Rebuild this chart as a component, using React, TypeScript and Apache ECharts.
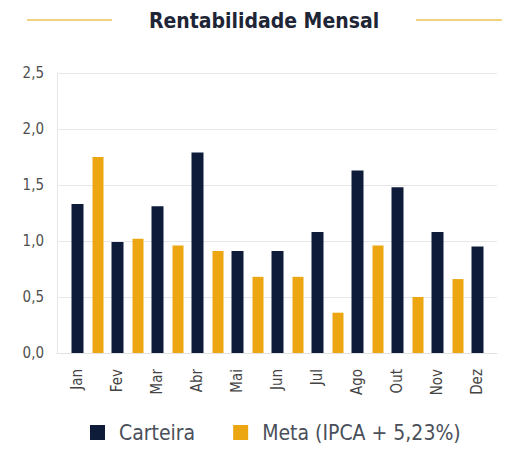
import React, { useEffect, useRef } from "react";
import * as echarts from "echarts";

const months = ["Jan", "Fev", "Mar", "Abr", "Mai", "Jun", "Jul", "Ago", "Out", "Nov", "Dez"];
const carteira = [1.33, 0.99, 1.31, 1.79, 0.91, 0.91, 1.08, 1.63, 1.48, 1.08, 0.95];
const meta: (number | null)[] = [1.75, 1.02, 0.96, 0.91, 0.68, 0.68, 0.36, 0.96, 0.5, 0.66, null];
const placeholder: (number | null)[] = months.map(() => null);

const FONT = "'DejaVu Sans Condensed', 'Roboto', sans-serif";
const NAVY = "#0e1c3a";
const GOLD = "#eba612";

export default function App() {
  const ref = useRef<HTMLDivElement>(null);
  useEffect(() => {
    if (!ref.current) return;
    const chart = echarts.init(ref.current, undefined, { renderer: "svg" });
    chart.setOption({
      animation: false,
      backgroundColor: "#ffffff",
      textStyle: { fontFamily: FONT },
      graphic: [
        { type: "line", shape: { x1: 27, y1: 20, x2: 112, y2: 20 }, style: { stroke: "#f2d27c", lineWidth: 2 } },
        { type: "line", shape: { x1: 416, y1: 20, x2: 502, y2: 20 }, style: { stroke: "#f2d27c", lineWidth: 2 } },
        {
          type: "text",
          x: 264,
          y: 21,
          style: {
            text: "Rentabilidade Mensal",
            fontFamily: FONT,
            fontSize: 21,
            fontWeight: "bold",
            fill: "#1e2536",
            align: "center",
            verticalAlign: "middle",
          },
        },
      ],
      legend: {
        data: ["Carteira", "Meta (IPCA + 5,23%)"],
        left: 85,
        bottom: 3,
        itemWidth: 15,
        itemHeight: 15,
        itemGap: 38,
        icon: "rect",
        textStyle: { fontFamily: FONT, fontSize: 21, color: "#4a4f5a", padding: [0, 0, 0, 9] },
      },
      grid: { left: 57, right: 9, top: 73, bottom: 98 },
      xAxis: {
        type: "category",
        data: months,
        axisLine: { lineStyle: { color: "#e3e3e3" } },
        axisTick: { show: false },
        axisLabel: { rotate: 90, fontSize: 15, color: "#444", margin: 16, fontFamily: FONT },
      },
      yAxis: {
        type: "value",
        min: 0,
        max: 2.5,
        interval: 0.5,
        axisLine: { show: true, lineStyle: { color: "#e6e6e6" } },
        splitLine: { lineStyle: { color: "#e8e8e8" } },
        axisLabel: {
          fontSize: 15,
          color: "#505050",
          margin: 13,
          fontFamily: FONT,
          formatter: (v: number) => v.toFixed(1).replace(".", ","),
        },
      },
      series: [
        { name: "_", type: "bar", data: placeholder, barWidth: 12, barGap: "75%", silent: true },
        { name: "Carteira", type: "bar", data: carteira, barWidth: 12, barGap: "75%", itemStyle: { color: NAVY } },
        { name: "Meta (IPCA + 5,23%)", type: "bar", data: meta, barWidth: 11, barGap: "75%", itemStyle: { color: GOLD } },
      ],
    });
    return () => chart.dispose();
  }, []);
  return <div ref={ref} style={{ width: 506, height: 451, position: "absolute", left: 0, top: 0 }} />;
}
